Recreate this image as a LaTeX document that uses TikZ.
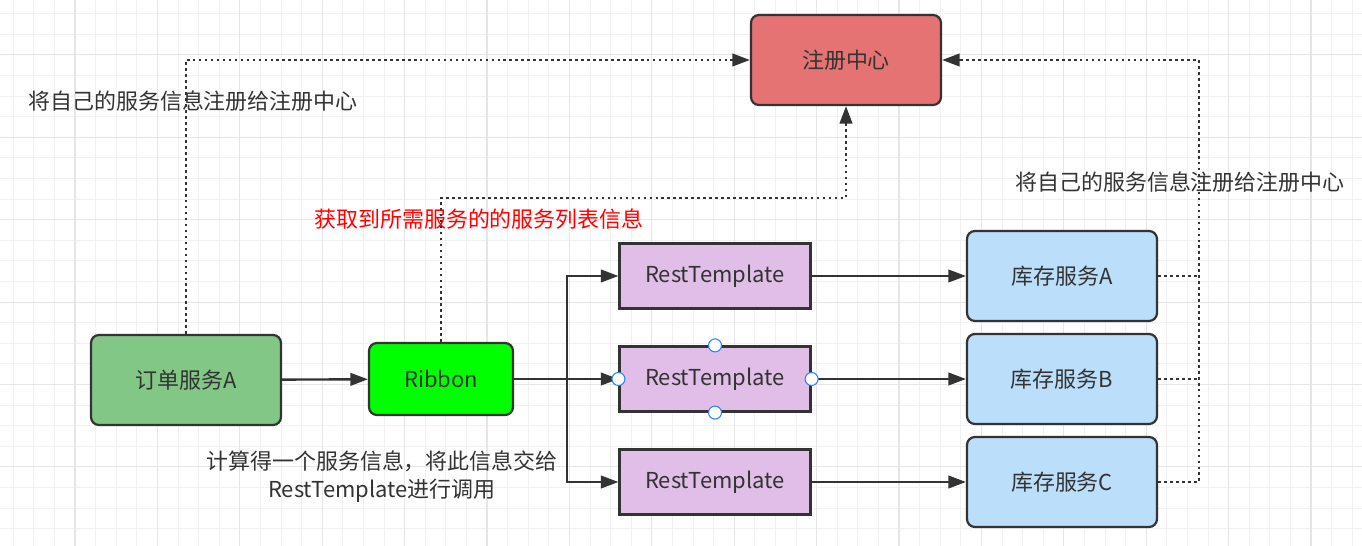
\documentclass[tikz,border=0pt]{standalone}
\usepackage{fontspec}
\setmainfont{Noto Sans CJK SC}
\usetikzlibrary{arrows.meta,positioning}
\definecolor{inkgray}{HTML}{333333}
\definecolor{gridminor}{HTML}{F1F1F1}
\definecolor{gridmajor}{HTML}{E6E6E6}
\definecolor{regfill}{HTML}{E57373}
\definecolor{orderfill}{HTML}{82C786}
\definecolor{ribbonfill}{HTML}{00FF00}
\definecolor{restfill}{HTML}{E1BEE7}
\definecolor{stockfill}{HTML}{BBDEFB}
\definecolor{handleblue}{HTML}{2A7FFF}

\begin{document}
\begin{tikzpicture}[x=0.02cm,y=-0.02cm]
\tikzset{
  labeltext/.style={font=\fontsize{12.5pt}{16pt}\selectfont,text=inkgray,inner sep=0pt},
  svcnode/.style={draw=inkgray,line width=1.25pt,rounded corners=4.5pt,labeltext,minimum width=3.8cm,minimum height=1.8cm},
  restnode/.style={draw=inkgray,line width=1.25pt,fill=restfill,labeltext,minimum width=3.82cm,minimum height=1.3cm},
  flowedge/.style={draw=inkgray,line width=1.35pt,-{Triangle[length=3.5mm,width=2.5mm]}},
  regedge/.style={draw=inkgray,line width=1.5pt,line cap=butt,dash pattern=on 1.5pt off 1.9pt},
  handle/.style={circle,draw=handleblue,fill=white,line width=0.6pt,minimum size=2.6mm,inner sep=0pt}
}
\useasboundingbox (0,0) rectangle (1362,546);
% grid background
\foreach \i in {0,...,66} {
  \pgfmathsetmacro\gx{13.2+20.6*\i}
  \draw[gridminor,line width=0.5pt] (\gx,0) -- (\gx,546);
}
\foreach \i in {0,...,26} {
  \pgfmathsetmacro\gy{13.7+20.6*\i}
  \draw[gridminor,line width=0.5pt] (0,\gy) -- (1362,\gy);
}
\foreach \i in {0,...,16} {
  \pgfmathsetmacro\gx{75+82.4*\i}
  \draw[gridmajor,line width=0.6pt] (\gx,0) -- (\gx,546);
}
\foreach \i in {0,...,6} {
  \pgfmathsetmacro\gy{54.9+82.4*\i}
  \draw[gridmajor,line width=0.6pt] (0,\gy) -- (1362,\gy);
}
% nodes
\node[svcnode,fill=regfill] (n_reg) at (846,60) {注册中心};
\node[svcnode,fill=orderfill] (n_order) at (186,380) {订单服务A};
\node[svcnode,fill=ribbonfill,minimum width=2.88cm,minimum height=1.44cm] (n_ribbon) at (441,379) {Ribbon};
\node[restnode] (n_rest1) at (715,276) {RestTemplate};
\node[restnode] (n_rest2) at (715,379) {RestTemplate};
\node[restnode] (n_rest3) at (715,482) {RestTemplate};
\node[svcnode,fill=stockfill] (n_stockA) at (1062,276) {库存服务A};
\node[svcnode,fill=stockfill] (n_stockB) at (1062,379) {库存服务B};
\node[svcnode,fill=stockfill] (n_stockC) at (1062,482) {库存服务C};
% labels
\node[labeltext] (t_left) at (193,101) {将自己的服务信息注册给注册中心};
\node[labeltext] (t_right) at (1180,182) {将自己的服务信息注册给注册中心};
\node[labeltext,text=red] (t_fetch) at (479,219) {获取到所需服务的的服务列表信息};
\node[labeltext,align=center] (t_calc) at (382,477) {计算得一个服务信息，将此信息交给\\RestTemplate进行调用};
% solid flow
\coordinate (c_split) at (567,379);
\draw[flowedge] (n_order) -- (n_ribbon);
\draw[flowedge] (n_ribbon.east) -- (n_rest2.west);
\draw[flowedge] (c_split) |- (n_rest1.west);
\draw[flowedge] (c_split) |- (n_rest3.west);
\draw[flowedge] (n_rest1) -- (n_stockA);
\draw[flowedge] (n_rest2) -- (n_stockB);
\draw[flowedge] (n_rest3) -- (n_stockC);
% registry links
\draw[regedge] (n_order.north) |- ([xshift=-3.4mm]n_reg.west);
\draw[flowedge] ([xshift=-3.55mm]n_reg.west) -- (n_reg.west);
\draw[regedge] (n_ribbon.north) -- (441,198) -| ([yshift=-3.4mm]n_reg.south);
\draw[flowedge] ([yshift=-3.55mm]n_reg.south) -- (n_reg.south);
\draw[regedge] (n_stockC.east) -| (1199,60) -- ([xshift=3.4mm]n_reg.east);
\draw[flowedge] ([xshift=3.55mm]n_reg.east) -- (n_reg.east);
\draw[regedge] (n_stockA.east) -- (1199,276);
\draw[regedge] (n_stockB.east) -- (1199,379);
% selection handles
\node[handle] (h_n) at (n_rest2.north) {};
\node[handle] (h_s) at (n_rest2.south) {};
\node[handle] (h_w) at (n_rest2.west) {};
\node[handle] (h_e) at (n_rest2.east) {};
\end{tikzpicture}
\end{document}
